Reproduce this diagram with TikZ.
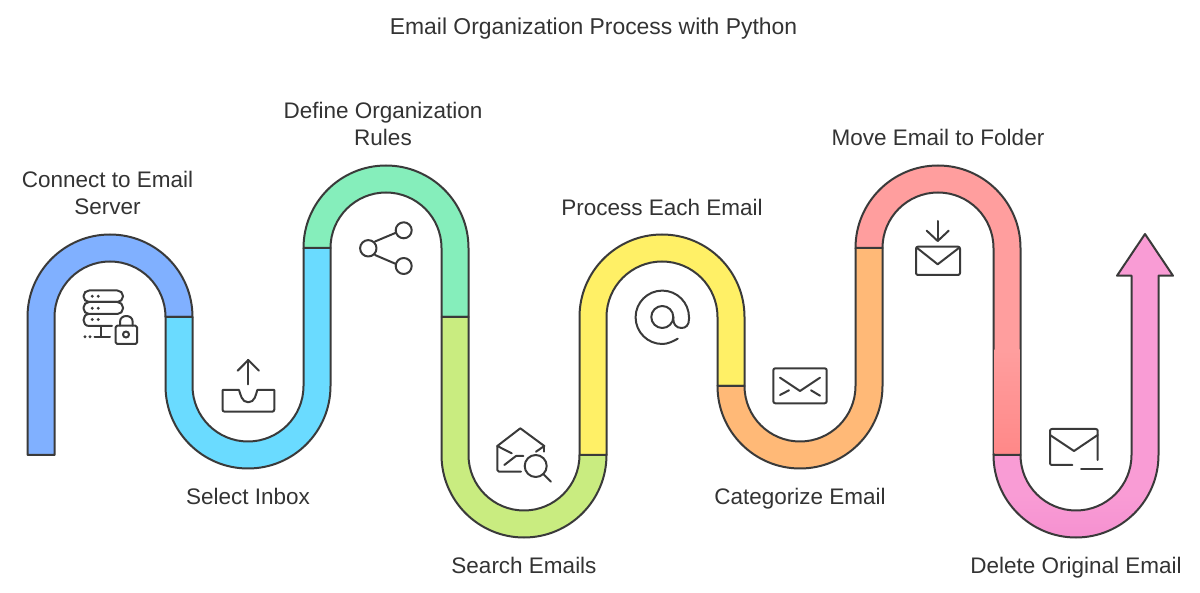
\documentclass[tikz,border=0pt]{standalone}
\usepackage{fontspec}
\setmainfont{Liberation Sans}
\definecolor{ink}{HTML}{3A3A3A}
\definecolor{txt}{HTML}{333333}
\definecolor{cblue}{HTML}{80B0FF}
\definecolor{ccyan}{HTML}{6ADBFF}
\definecolor{cgreen}{HTML}{85EEBB}
\definecolor{clime}{HTML}{C9EC80}
\definecolor{cyellow}{HTML}{FFF066}
\definecolor{corange}{HTML}{FFB977}
\definecolor{cred}{HTML}{FF9E9E}
\definecolor{credd}{HTML}{FF8888}
\definecolor{cpink}{HTML}{F99CD5}
\definecolor{cpinkd}{HTML}{F590D0}
\tikzset{
  band/.style={draw=ink,line width=2pt,line join=round},
  icon/.style={draw=ink,line width=2pt,line cap=round,line join=round},
  label/.style={text=txt,align=center,inner sep=0pt,font=\fontsize{22.5}{27.5}\selectfont},
  baselabel/.style={label,anchor=base},
  dotmark/.style={fill=ink,draw=none}
}
\newcommand{\bandtop}[5]{\path[band,fill=#1] ({#2-82.5},#4) -- ({#2-82.5},#3) arc[start angle=180,end angle=360,radius=82.5] -- ({#2+82.5},#5) -- ({#2+55.5},#5) -- ({#2+55.5},#3) arc[start angle=360,end angle=180,radius=55.5] -- ({#2-55.5},#4) -- cycle;}
\newcommand{\bandbot}[5]{\path[band,fill=#1] ({#2-82.5},#4) -- ({#2-82.5},#3) arc[start angle=180,end angle=0,radius=82.5] -- ({#2+82.5},#5) -- ({#2+55.5},#5) -- ({#2+55.5},#3) arc[start angle=0,end angle=180,radius=55.5] -- ({#2-55.5},#4) -- cycle;}
\newcommand{\pinkshape}{(993.5,455) arc[start angle=180,end angle=0,radius=82.5] -- (1158.5,275.7) -- (1173,275.7) -- (1145,234) -- (1117,275.7) -- (1131.5,275.7) -- (1131.5,455) arc[start angle=0,end angle=180,radius=55.5] -- cycle}
\begin{document}
\begin{tikzpicture}[x=1pt,y=-1pt]
\useasboundingbox (0,0) rectangle (1200,593);
% bands
\bandtop{cblue}{110}{317}{455}{317}
\bandbot{ccyan}{248}{386}{317}{248}
\bandtop{cgreen}{386}{248}{248}{317}
\bandbot{clime}{524}{455}{317}{455}
\bandtop{cyellow}{662}{317}{455}{386}
\bandbot{corange}{800}{386}{386}{248}
\bandtop{cred}{938}{248}{248}{455}
\shade[top color=cred,bottom color=credd] (994.5,350) rectangle (1019.5,454);
\fill[cpink] \pinkshape;
\begin{scope}
\clip \pinkshape;
\shade[top color=cpink,bottom color=cpinkd] (990,495) rectangle (1162,540);
\end{scope}
\path[band] \pinkshape;
% labels
\node[baselabel,font=\fontsize{22.9}{27.5}\selectfont] (title) at (593.5,35) {Email Organization Process with Python};
\node[label] (l1) at (107.5,193) {Connect to Email\\Server};
\node[baselabel] (l2) at (248,504) {Select Inbox};
\node[label] (l3) at (383,124) {Define Organization\\Rules};
\node[baselabel] (l4) at (524,573) {Search Emails};
\node[baselabel] (l5) at (662,215.7) {Process Each Email};
\node[baselabel] (l6) at (800,504) {Categorize Email};
\node[baselabel] (l7) at (938,145.7) {Move Email to Folder};
\node[baselabel] (l8) at (1076,573) {Delete Original Email};
% server + lock icon
\draw[icon,rounded corners=5.6pt] (83.5,290.5) rectangle (123,302);
\draw[icon,rounded corners=5.6pt] (83.5,302) rectangle (123,314);
\draw[icon] (89,314) .. controls (85.5,314) and (83.5,317) .. (83.5,320) .. controls (83.5,323) and (85.5,326) .. (89,326) -- (112,326);
\draw[icon] (101,326) -- (101,336.7);
\draw[icon] (94.5,336.7) -- (110,336.7);
\foreach \yy in {296.3,308.3,319.5}{\fill[dotmark] (92.3,\yy) circle (1.6); \fill[dotmark] (98.3,\yy) circle (1.6);}
\fill[dotmark] (85,336.7) circle (1.6);
\fill[dotmark] (90,336.7) circle (1.6);
\draw[icon,rounded corners=1.5pt] (115.7,325.7) rectangle (137,344);
\draw[icon] (120,325.7) -- (120,322) .. controls (120,318) and (123,316) .. (126.3,316) .. controls (129.7,316) and (132.7,318) .. (132.7,322) -- (132.7,325.7);
\draw[icon] (126,334.5) circle (3);
% inbox icon
\draw[icon] (248.3,384.3) -- (248.3,360);
\draw[icon] (237.7,370.7) -- (248.3,360) -- (259,370.7);
\draw[icon] (239,390) -- (222.5,390) -- (222.5,409.5) .. controls (222.5,411) and (223.5,411.7) .. (225,411.7) -- (272,411.7) .. controls (273.5,411.7) and (274.3,411) .. (274.3,409.5) -- (274.3,390) -- (257.3,390) .. controls (256,394) and (255,402.3) .. (248.3,402.3) .. controls (241.5,402.3) and (240.5,394) .. (239,390);
% share icon
\draw[icon] (368.3,248.3) circle (8.2);
\draw[icon] (403.7,230.3) circle (8);
\draw[icon] (403.7,266) circle (8);
\draw[icon] (375,241.5) -- (396,232.7);
\draw[icon] (375,255) -- (396,264);
% envelope + magnifier icon
\draw[icon] (511.7,453.3) -- (497.3,446) -- (520.3,428.3) -- (544.3,446) -- (536,451.7);
\draw[icon] (544.3,446) -- (544.3,451.7);
\draw[icon] (497.3,446) -- (497.3,470) .. controls (497.3,471) and (498,471.7) .. (499,471.7) -- (521,471.7);
\draw[icon] (504.3,465) -- (516,456) -- (523.3,456);
\draw[icon] (535.7,466) circle (11);
\draw[icon] (543.3,474) -- (551,481.7);
% at icon
\draw[icon] (662.3,317) circle (11);
\draw[icon] (677.7,338.7) .. controls (673,341.5) and (667.5,344) .. (662.3,344) arc[start angle=90,end angle=360,radius=26.7] -- (689,319) .. controls (689,325) and (686,328) .. (681.5,328) .. controls (676,328) and (673.3,324) .. (673.3,319) -- (673.3,317);
% envelope icon
\draw[icon,rounded corners=2pt] (773.3,368.3) rectangle (826.7,403.3);
\draw[icon] (780,377.7) -- (800,391) -- (820,377.7);
\draw[icon] (780,395) -- (789,390.3);
\draw[icon] (811,390.3) -- (820,395.7);
% move icon
\draw[icon] (937.7,221) -- (937.7,241);
\draw[icon] (926.7,230.7) -- (937.7,241) -- (948.7,230.7);
\draw[icon,rounded corners=2pt] (916,246.7) rectangle (960,275);
\draw[icon] (916.5,247.5) -- (937.7,264.3) -- (959.5,247.5);
% delete icon
\draw[icon] (1072.3,465) -- (1052,465) .. controls (1050.7,465) and (1050,464.3) .. (1050,463) -- (1050,431) .. controls (1050,429.7) and (1050.7,429) .. (1052,429) -- (1095.7,429) .. controls (1097,429) and (1097.7,429.7) .. (1097.7,431) -- (1097.7,460);
\draw[icon] (1050,435) -- (1074,451) -- (1097.7,435);
\draw[icon] (1081,469) -- (1102.3,469);
\end{tikzpicture}
\end{document}
